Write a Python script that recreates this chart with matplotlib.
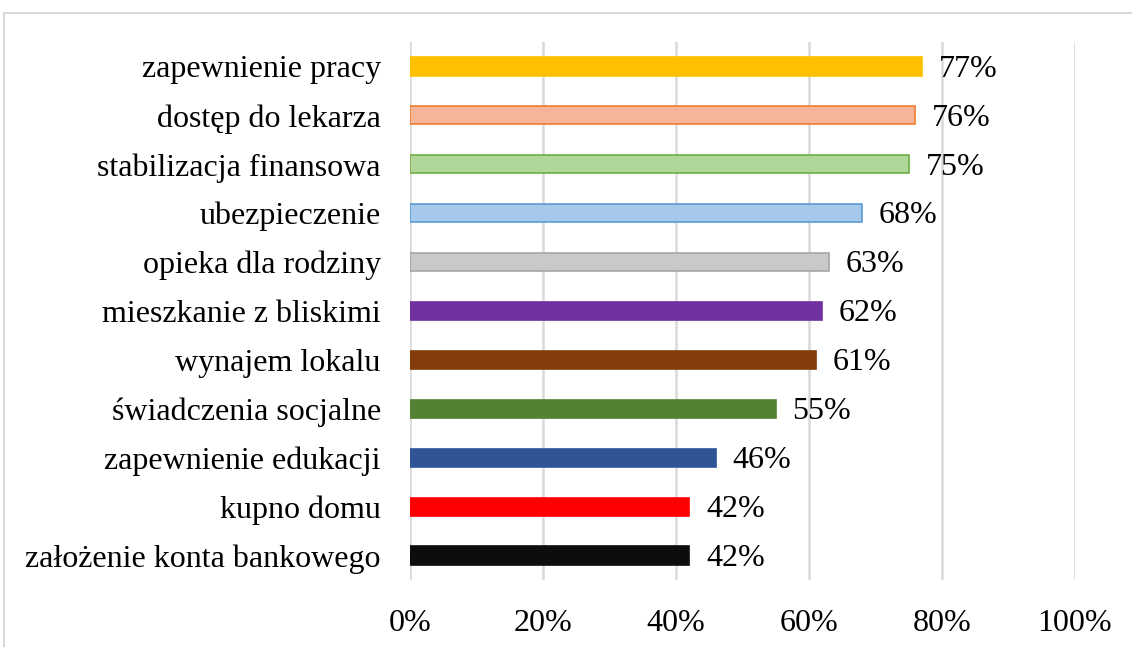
import matplotlib.pyplot as plt
from matplotlib.patches import Rectangle
from matplotlib.ticker import FuncFormatter

# ==========================
# DATA
# ==========================
categories = [
    "założenie konta bankowego",
    "kupno domu",
    "zapewnienie edukacji",
    "świadczenia socjalne",
    "wynajem lokalu",
    "mieszkanie z bliskimi",
    "opieka dla rodziny",
    "ubezpieczenie",
    "stabilizacja finansowa",
    "dostęp do lekarza",
    "zapewnienie pracy",
]
values = [42, 42, 46, 55, 61, 62, 63, 68, 75, 76, 77]

fill_colors = ["#0D0D0D", "#FF0000", "#2F5597", "#548235", "#843C0C",
               "#7030A0", "#C9C9C9", "#A6C8EA", "#B0D69A", "#F6B596", "#FFC000"]
edge_colors = ["#0D0D0D", "#FF0000", "#2F5597", "#548235", "#843C0C",
               "#7030A0", "#A5A5A5", "#5B9BD5", "#70AD47", "#ED7D31", "#FFC000"]

xticks = [0, 20, 40, 60, 80, 100]

# ==========================
# PLOT
# ==========================
plt.rcParams["font.family"] = ["Liberation Serif", "DejaVu Serif"]
FS = 23

fig = plt.figure(figsize=(11.32, 6.47), dpi=100)

# chart border (cut off at right and bottom like the source)
fig.patches.append(Rectangle((4 / 1132, -0.1), 1.2, 1 - 13 / 647 + 0.1,
                             transform=fig.transFigure, fill=False,
                             edgecolor="#D9D9D9", linewidth=1.5))

ax = fig.add_axes([410 / 1132, 67 / 647, 665 / 1132, 538 / 647])

y = list(range(len(categories)))
ax.barh(y, values, height=0.37, color=fill_colors, edgecolor=edge_colors,
        linewidth=1.2, zorder=3)

for yi, v in zip(y, values):
    ax.annotate(f"{v}%", (v, yi), xytext=(12, -2), textcoords="offset points",
                ha="left", va="center", fontsize=FS)

ax.set_xlim(0, 100)
ax.set_ylim(-0.5, len(categories) - 0.5)
ax.set_xticks(xticks)
ax.xaxis.set_major_formatter(FuncFormatter(lambda v, p: f"{v:.0f}%"))
ax.set_yticks(y)
ax.set_yticklabels(categories)

ax.tick_params(axis="x", length=0, pad=21, labelsize=FS)
ax.tick_params(axis="y", length=0, pad=21, labelsize=FS)

ax.grid(axis="x", color="#D9D9D9", linewidth=1.8, zorder=0)
for s in ax.spines.values():
    s.set_visible(False)

fig.savefig("out.png", dpi=100)
